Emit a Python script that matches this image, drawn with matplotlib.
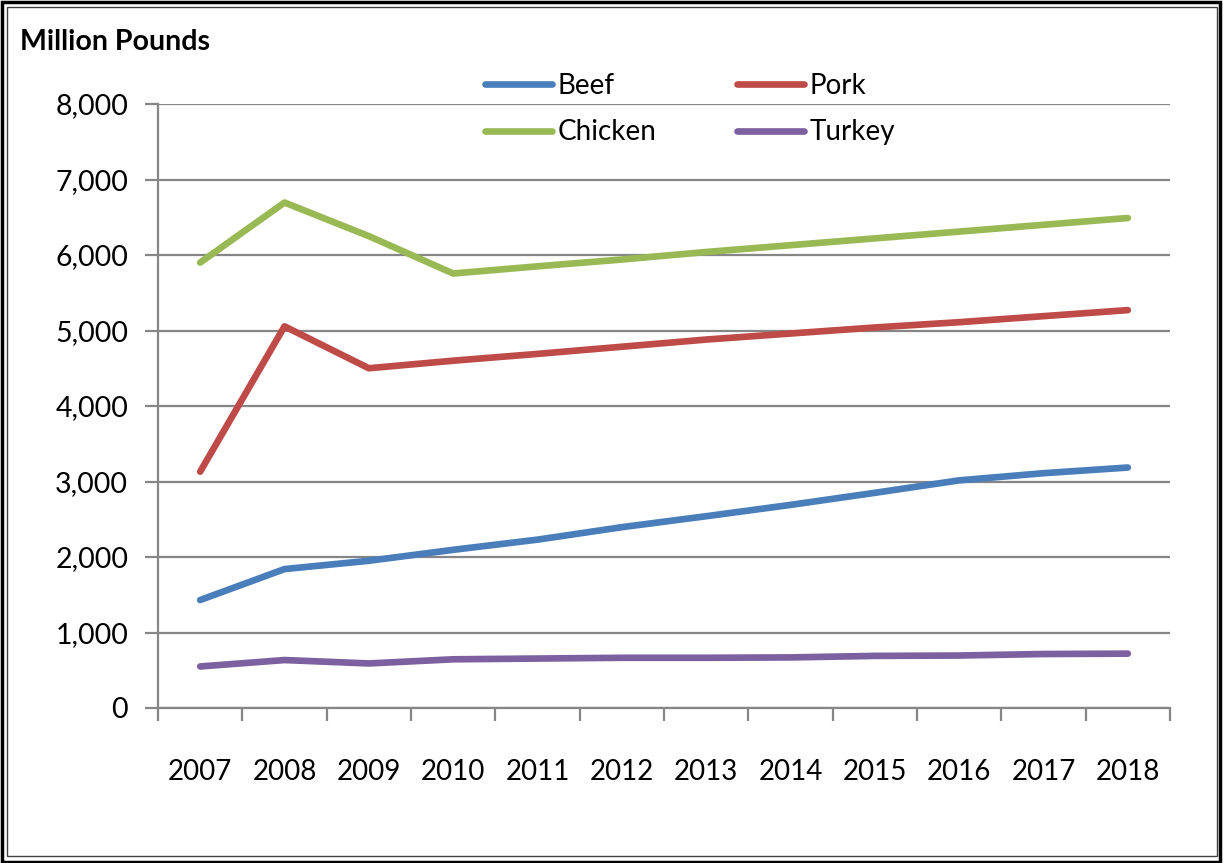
import matplotlib
matplotlib.use("Agg")
import matplotlib.pyplot as plt
from matplotlib.patches import Rectangle
from matplotlib.ticker import FuncFormatter, FixedLocator

years = ["2007", "2008", "2009", "2010", "2011", "2012",
         "2013", "2014", "2015", "2016", "2017", "2018"]
beef = [1430, 1840, 1950, 2095, 2230, 2395, 2540, 2690, 2850, 3015, 3110, 3185]
pork = [3130, 5055, 4500, 4600, 4690, 4785, 4880, 4960, 5040, 5110, 5190, 5270]
chicken = [5900, 6695, 6250, 5755, 5850, 5940, 6040, 6130, 6220, 6310, 6400, 6490]
turkey = [550, 635, 590, 645, 655, 665, 665, 670, 690, 695, 715, 720]

series_names = ["Beef", "Pork", "Chicken", "Turkey"]
series_colors = ["#4A7EBB", "#BE4B48", "#98B954", "#7D60A0"]
y_ticks = [0, 1000, 2000, 3000, 4000, 5000, 6000, 7000, 8000]

plt.rcParams["font.family"] = ["Lato", "DejaVu Sans"]

W, H, DPI = 1224, 863, 100
fig = plt.figure(figsize=(W / DPI, H / DPI), dpi=DPI)
ax = fig.add_axes([158 / W, 1 - 708 / H, (1170 - 158) / W, (708 - 104) / H])

grid_gray = "#868686"
x = list(range(len(years)))
handles = {}
for name, vals, col in zip(series_names, [beef, pork, chicken, turkey], series_colors):
    h, = ax.plot(x, vals, color=col, lw=4.8, solid_capstyle="round",
                 solid_joinstyle="round", label=name, zorder=3)
    handles[name] = h

ax.set_xlim(-0.5, len(years) - 0.5)
ax.set_ylim(0, 8000)
ax.yaxis.set_major_locator(FixedLocator(y_ticks))
ax.yaxis.set_major_formatter(FuncFormatter(lambda v, p: f"{int(v):,}"))
ax.grid(axis="y", color=grid_gray, lw=1.6, zorder=1)
ax.set_axisbelow(True)

ax.set_xticks(x)
ax.set_xticklabels(years)
ax.set_xticks([i - 0.5 for i in range(len(years) + 1)], minor=True)
ax.tick_params(axis="x", which="major", length=0, pad=37, labelsize=20)
ax.tick_params(axis="x", which="minor", length=9.5, width=1.6, color=grid_gray,
               direction="out")
ax.tick_params(axis="y", length=9.5, width=1.6, color=grid_gray, pad=12,
               labelsize=20.5)

for s in ["top", "right"]:
    ax.spines[s].set_visible(False)
for s in ["left", "bottom"]:
    ax.spines[s].set_color(grid_gray)
    ax.spines[s].set_linewidth(1.6)

fig.text(20 / W, 1 - 42 / H, "Million Pounds", fontsize=20.5, fontweight="bold",
         ha="left", va="center")

# legend filled row by row: Beef, Pork / Chicken, Turkey
leg_order = ["Beef", "Chicken", "Pork", "Turkey"]
leg = fig.legend(handles=[handles[n] for n in leg_order], ncol=2, loc="center",
                 bbox_to_anchor=(690 / W, 1 - 109 / H), frameon=False,
                 fontsize=20, handlelength=2.4, handletextpad=0.2,
                 columnspacing=2.9, labelspacing=0.75)

# outer frame of the figure
fig.patches.append(Rectangle((2 / W, 1.5 / H), (W - 6) / W, (H - 3.5) / H,
                             transform=fig.transFigure, fill=False,
                             edgecolor="black", lw=2.5))
fig.patches.append(Rectangle((7 / W, 7 / H), (W - 14) / W, (H - 14) / H,
                             transform=fig.transFigure, fill=False,
                             edgecolor="#404040", lw=1.0))

fig.savefig("out.png", dpi=DPI)
